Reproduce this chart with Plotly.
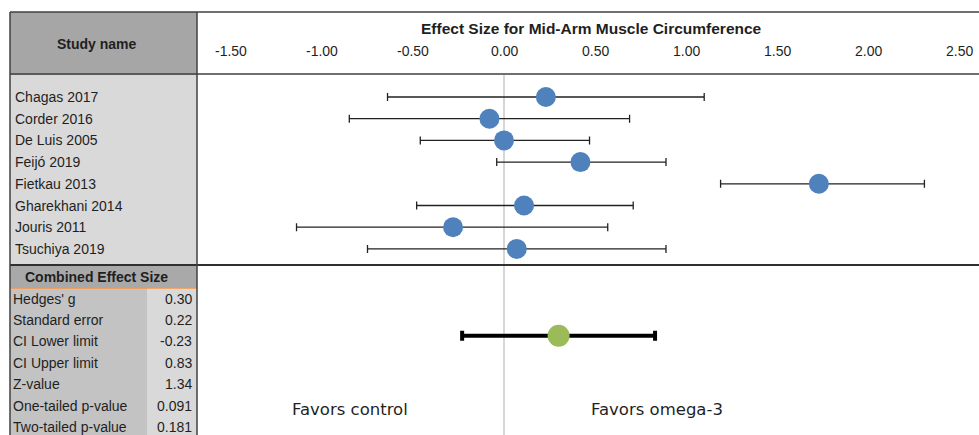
import plotly.graph_objects as go

# ---------------- data ----------------
studies = ["Chagas 2017", "Corder 2016", "De Luis 2005", "Feijó 2019",
           "Fietkau 2013", "Gharekhani 2014", "Jouris 2011", "Tsuchiya 2019"]
effect = [0.23, -0.08, 0.00, 0.42, 1.73, 0.11, -0.28, 0.07]
ci_low = [-0.64, -0.85, -0.46, -0.04, 1.19, -0.48, -1.14, -0.75]
ci_high = [1.10, 0.69, 0.47, 0.89, 2.31, 0.71, 0.57, 0.89]

combined_g = 0.30
combined_low = -0.23
combined_high = 0.83

stat_labels = ["Hedges' g", "Standard error", "CI Lower limit", "CI Upper limit",
               "Z-value", "One-tailed p-value", "Two-tailed p-value"]
stat_values = ["0.30", "0.22", "-0.23", "0.83", "1.34", "0.091", "0.181"]

tick_vals = [-1.5, -1.0, -0.5, 0.0, 0.5, 1.0, 1.5, 2.0, 2.5]
tick_text = ["-1.50", "-1.00", "-0.50", "0.00", "0.50", "1.00", "1.50", "2.00", "2.50"]

title = "Effect Size for Mid-Arm Muscle Circumference"

# ---------------- geometry ----------------
W, H = 979, 435
PX0, ZERO_PX, PX_PER_UNIT = 197, 504, 182.0
ROW0_PX, ROW_PX = 97, 21.7
COMBINED_ROW = 11


def px(x):
    return x / W


def py(y):
    return 1 - y / H


x_range = [(PX0 - ZERO_PX) / PX_PER_UNIT, (W - ZERO_PX) / PX_PER_UNIT]
y_range = [(H - ROW0_PX) / ROW_PX, (0 - ROW0_PX) / ROW_PX]

rows = list(range(len(studies)))

fig = go.Figure()

# study estimates
fig.add_trace(go.Scatter(
    x=effect, y=rows, mode="markers",
    marker=dict(size=20, color="#4f81bd"),
    error_x=dict(type="data", symmetric=False,
                 array=[h - e for h, e in zip(ci_high, effect)],
                 arrayminus=[e - l for e, l in zip(effect, ci_low)],
                 color="#222222", thickness=1.3, width=4),
    hoverinfo="skip", showlegend=False,
))

# combined estimate
fig.add_trace(go.Scatter(
    x=[combined_g], y=[COMBINED_ROW], mode="markers",
    marker=dict(size=22, color="#9bbb59"),
    error_x=dict(type="data", symmetric=False,
                 array=[combined_high - combined_g],
                 arrayminus=[combined_g - combined_low],
                 color="#000000", thickness=4, width=5),
    hoverinfo="skip", showlegend=False,
))

shapes = []
# left panel backgrounds
shapes.append(dict(type="rect", xref="paper", yref="paper", x0=px(10), x1=px(197),
                   y0=py(75), y1=py(12), fillcolor="#a6a6a6", line_width=0, layer="below"))
shapes.append(dict(type="rect", xref="paper", yref="paper", x0=px(10), x1=px(197),
                   y0=py(265), y1=py(75), fillcolor="#d9d9d9", line_width=0, layer="below"))
shapes.append(dict(type="rect", xref="paper", yref="paper", x0=px(10), x1=px(197),
                   y0=py(288), y1=py(265), fillcolor="#a9a9a9", line_width=0, layer="below"))
shapes.append(dict(type="rect", xref="paper", yref="paper", x0=px(10), x1=px(147),
                   y0=py(H), y1=py(288), fillcolor="#c3c3c3", line_width=0, layer="below"))
shapes.append(dict(type="rect", xref="paper", yref="paper", x0=px(147), x1=px(197),
                   y0=py(H), y1=py(288), fillcolor="#d9d9d9", line_width=0, layer="below"))
# orange line under combined header
shapes.append(dict(type="line", xref="paper", yref="paper", x0=px(10), x1=px(197),
                   y0=py(288), y1=py(288), line=dict(color="#f79646", width=1.5)))
# zero reference line
shapes.append(dict(type="line", xref="x", yref="paper", x0=0, x1=0,
                   y0=py(H), y1=py(75), line=dict(color="#c8c8c8", width=1.5), layer="below"))
# grid borders
for yy, wdt, col in [(12, 1.5, "#404040"), (74, 1.5, "#404040"), (265, 2, "#303030")]:
    shapes.append(dict(type="line", xref="paper", yref="paper", x0=px(10), x1=1,
                       y0=py(yy), y1=py(yy), line=dict(color=col, width=wdt)))
for xx in [10, 197]:
    shapes.append(dict(type="line", xref="paper", yref="paper", x0=px(xx), x1=px(xx),
                       y0=py(H), y1=py(12), line=dict(color="#404040", width=1.5)))

FONT = "Liberation Sans"
TXT = "#1f1f1f"
FS = 14
annotations = []
annotations.append(dict(text="<b>Study name</b>", xref="paper", yref="paper",
                        x=px(97), y=py(44), showarrow=False, xanchor="center", yanchor="middle",
                        font=dict(family=FONT, size=FS, color=TXT)))
annotations.append(dict(text="<b>" + title + "</b>", xref="paper", yref="paper",
                        x=px(591), y=py(28), showarrow=False, xanchor="center", yanchor="middle",
                        font=dict(family=FONT, size=15.5, color=TXT)))
for tv, tt in zip(tick_vals, tick_text):
    annotations.append(dict(text=tt, xref="x", yref="paper", x=tv, y=py(51),
                            showarrow=False, xanchor="center", yanchor="middle",
                            font=dict(family=FONT, size=FS, color=TXT)))
for i, name in enumerate(studies):
    annotations.append(dict(text=name, xref="paper", yref="y", x=px(13), y=i,
                            showarrow=False, xanchor="left", yanchor="middle",
                            font=dict(family=FONT, size=FS, color=TXT)))
annotations.append(dict(text="<b>Combined Effect Size</b>", xref="paper", yref="paper",
                        x=px(96), y=py(277), showarrow=False, xanchor="center", yanchor="middle",
                        font=dict(family=FONT, size=FS, color=TXT)))
for j, (lab, val) in enumerate(zip(stat_labels, stat_values)):
    yy = 298.5 + j * 21.4
    annotations.append(dict(text=lab, xref="paper", yref="paper", x=px(11), y=py(yy),
                            showarrow=False, xanchor="left", yanchor="middle",
                            font=dict(family=FONT, size=FS, color=TXT)))
    annotations.append(dict(text=val, xref="paper", yref="paper", x=px(194), y=py(yy),
                            showarrow=False, xanchor="right", yanchor="middle",
                            font=dict(family=FONT, size=FS, color=TXT)))
annotations.append(dict(text="Favors control", xref="paper", yref="paper", x=px(350), y=py(409),
                        showarrow=False, xanchor="center", yanchor="middle",
                        font=dict(family="DejaVu Sans", size=16.5, color=TXT)))
annotations.append(dict(text="Favors omega-3", xref="paper", yref="paper", x=px(657), y=py(409),
                        showarrow=False, xanchor="center", yanchor="middle",
                        font=dict(family="DejaVu Sans", size=16.5, color=TXT)))

fig.update_layout(
    width=W, height=H,
    margin=dict(l=0, r=0, t=0, b=0),
    paper_bgcolor="white", plot_bgcolor="rgba(0,0,0,0)",
    xaxis=dict(domain=[PX0 / W, 1], range=x_range, visible=False, fixedrange=True),
    yaxis=dict(domain=[0, 1], range=y_range, visible=False, fixedrange=True),
    shapes=shapes, annotations=annotations,
)

fig.write_html("out.html")
